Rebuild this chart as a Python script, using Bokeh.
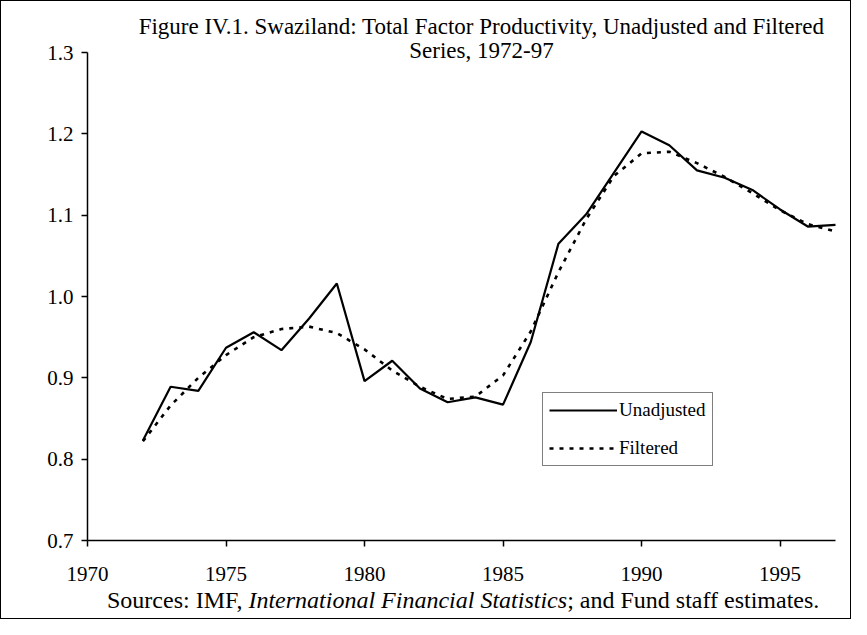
from bokeh.plotting import figure
from bokeh.models import Label, Legend, LegendItem, FixedTicker, PrintfTickFormatter, Range1d
from bokeh.embed import file_html
from bokeh.resources import INLINE

# ---- data ----
years = list(range(1972, 1998))
unadjusted = [0.823, 0.889, 0.884, 0.937, 0.956, 0.934, 0.973, 1.016, 0.896, 0.921,
              0.887, 0.870, 0.876, 0.867, 0.944, 1.065, 1.101, 1.152, 1.203, 1.186,
              1.155, 1.146, 1.131, 1.107, 1.086, 1.088]
filtered = [0.822, 0.866, 0.900, 0.928, 0.950, 0.960, 0.963, 0.955, 0.935, 0.909,
            0.889, 0.874, 0.877, 0.903, 0.957, 1.030, 1.095, 1.148, 1.176, 1.178,
            1.164, 1.147, 1.127, 1.106, 1.089, 1.080]
x_ticks = [1970, 1975, 1980, 1985, 1990, 1995]
x_tick_labels = ["1970", "1975", "1980", "1985", "1990", "1995"]
y_ticks = [0.7, 0.8, 0.9, 1.0, 1.1, 1.2, 1.3]
x_axis_span = (1970, 1997)
y_axis_span = (0.7, 1.3)
series_names = ["Unadjusted", "Filtered"]
title_lines = ["Figure IV.1. Swaziland: Total Factor Productivity, Unadjusted and Filtered",
               "Series, 1972-97"]
source_parts = ["Sources: IMF, ", "International Financial Statistics", "; and Fund staff estimates."]

FONT = "Liberation Serif"

# layout geometry (pixels)
W, H = 851, 619
AX_LEFT = 86         # y axis position from left
AX_BOTTOM = 539      # x axis (0.7) position from top
AX_TOP = 51          # 1.3 position from top
AX_RIGHT = 834       # 1997 position from left

ppu_y = (AX_BOTTOM - AX_TOP) / (y_axis_span[1] - y_axis_span[0])
ppu_x = (AX_RIGHT - AX_LEFT) / (x_axis_span[1] - x_axis_span[0])
y_start = y_axis_span[0] - (H - AX_BOTTOM) / ppu_y
y_end = y_axis_span[1] + AX_TOP / ppu_y
x_start = x_axis_span[0] - AX_LEFT / ppu_x
x_end = x_axis_span[1] + (W - AX_RIGHT) / ppu_x

p = figure(width=W, height=H, output_backend="svg", toolbar_location=None,
           x_range=Range1d(x_start, x_end), y_range=Range1d(y_start, y_end),
           min_border_left=0, min_border_right=0, min_border_top=0, min_border_bottom=0)
p.styles = {"border": "1px solid black"}
p.outline_line_color = None
p.xgrid.visible = False
p.ygrid.visible = False
p.background_fill_color = "white"
p.border_fill_color = "white"

for ax in (p.xaxis[0], p.yaxis[0]):
    ax.axis_line_color = "black"
    ax.axis_line_width = 1.5
    ax.major_tick_line_color = "black"
    ax.major_tick_line_width = 1.5
    ax.major_tick_out = 6
    ax.major_tick_in = 0
    ax.minor_tick_line_color = None
    ax.major_label_text_font = FONT
    ax.major_label_text_font_size = "21px"
    ax.major_label_text_color = "black"

p.xaxis.ticker = FixedTicker(ticks=x_ticks)
p.xaxis.major_label_overrides = {t: l for t, l in zip(x_ticks, x_tick_labels)}
p.xaxis.major_label_standoff = 20
p.xaxis.bounds = x_axis_span
p.xaxis.fixed_location = y_axis_span[0]
p.yaxis.ticker = FixedTicker(ticks=y_ticks)
p.yaxis.formatter = PrintfTickFormatter(format="%.1f")
p.yaxis.major_label_standoff = 8
p.yaxis.bounds = y_axis_span
p.yaxis.fixed_location = x_axis_span[0]

r1 = p.line(years, unadjusted, line_color="black", line_width=2.2)
r2 = p.line(years, filtered, line_color="black", line_width=2.6, line_dash="4 6")

legend = Legend(items=[LegendItem(label=series_names[0], renderers=[r1]),
                       LegendItem(label=series_names[1], renderers=[r2])],
                location=(541, H - 465))
legend.border_line_color = "black"
legend.border_line_width = 1.2
legend.background_fill_color = "white"
legend.background_fill_alpha = 1.0
legend.label_text_font = FONT
legend.label_text_font_size = "19px"
legend.label_text_color = "black"
legend.glyph_width = 68
legend.glyph_height = 22
legend.label_height = 22
legend.label_standoff = 2
legend.spacing = 16
legend.padding = 6
legend.margin = 0
p.add_layout(legend)

# titles (screen units, relative to plot frame bottom-left = canvas bottom-left)
tfs = "23px"
p.add_layout(Label(x=480, y=H - 25, x_units="screen", y_units="screen", text=title_lines[0],
                   text_font=FONT, text_font_size=tfs, text_align="center",
                   text_baseline="middle", text_color="black"))
p.add_layout(Label(x=480, y=H - 49, x_units="screen", y_units="screen", text=title_lines[1],
                   text_font=FONT, text_font_size=tfs, text_align="center",
                   text_baseline="middle", text_color="black"))

# sources line with italic part
fs = 24
w_left = 5.97 * fs
w_it = 13.28 * fs
w_right = 10.53 * fs
total = w_left + w_it + w_right
start = 461 - total / 2
xi = start + w_left
ys = H - 598
p.add_layout(Label(x=xi, y=ys, x_units="screen", y_units="screen", text=source_parts[0],
                   text_font=FONT, text_font_size=f"{fs}px", text_align="right",
                   text_baseline="middle", text_color="black"))
p.add_layout(Label(x=xi, y=ys, x_units="screen", y_units="screen", text=source_parts[1],
                   text_font=FONT, text_font_size=f"{fs}px", text_align="left",
                   text_font_style="italic", text_baseline="middle", text_color="black"))
p.add_layout(Label(x=xi + w_it, y=ys, x_units="screen", y_units="screen", text=source_parts[2],
                   text_font=FONT, text_font_size=f"{fs}px", text_align="left",
                   text_baseline="middle", text_color="black"))

open("out.html", "w").write(file_html(p, INLINE))
